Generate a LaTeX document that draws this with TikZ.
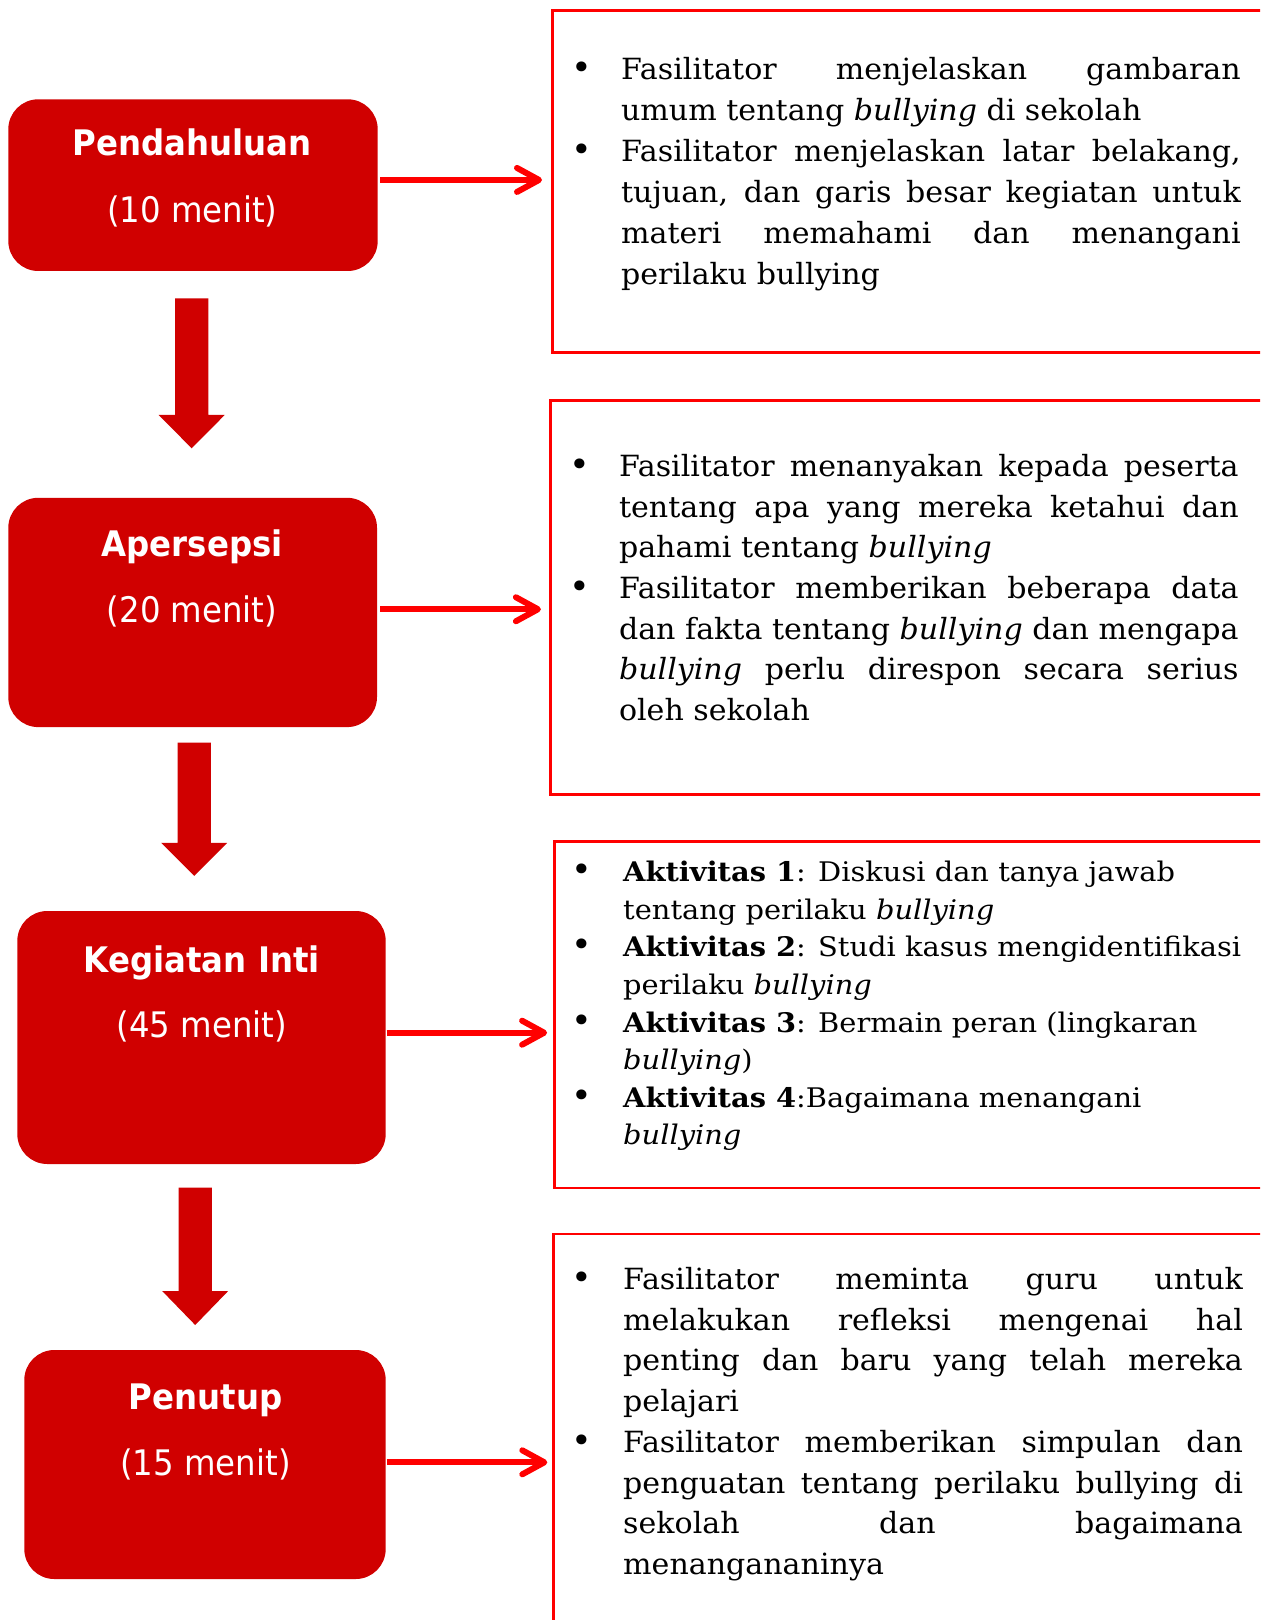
\documentclass[tikz,border=0pt]{standalone}
\usepackage{fontspec}
\setmainfont[FakeStretch=1.03]{DejaVu Serif}
\newfontfamily\widefont[FakeStretch=1.07]{DejaVu Serif}
\newfontfamily\labelfont[FakeStretch=0.92]{DejaVu Sans}
\usetikzlibrary{arrows.meta,calc,fit}
\definecolor{boxred}{RGB}{208,0,0}
\definecolor{linered}{RGB}{255,0,0}
\newcommand\jline[1]{\makebox[\linewidth][s]{#1}}
\newcommand\blockarr[4]{% cx, top, base, tip
  \fill[boxred] (#1-16.6,#2) -- (#1+16.6,#2) -- (#1+16.6,#3) -- (#1+33,#3) -- (#1,#4) -- (#1-33,#3) -- (#1-16.6,#3) -- cycle;}
\begin{document}
\begin{tikzpicture}[x=0.5pt,y=-0.5pt,
  lbox/.style={fill=boxred, draw=none, rounded corners=15pt, inner sep=0pt},
  rbox/.style={draw=linered, line width=1.3pt, inner sep=0pt},
  ltitle/.style={text=white, font=\labelfont\bfseries\fontsize{17.6}{20}\selectfont, anchor=base, inner sep=0pt},
  ltime/.style={text=white, font=\labelfont\fontsize{17.6}{20}\selectfont, anchor=base, inner sep=0pt},
  harrow/.style={draw=linered, line width=3pt, -{Straight Barb[length=11pt,width=12pt,round]}},
  bul/.style={anchor=base, inner sep=0pt, font=\fontsize{17}{18}\selectfont},
  body/.style={anchor=base west, inner sep=0pt}
]
\useasboundingbox (0,0) rectangle (1260,1620);
\clip (0,0) rectangle (1260,1620);

% left boxes
\node[lbox, fit={(8.3,99.3) (377.7,271)}] (p1) {};
\node[lbox, fit={(8.3,497.8) (377,727.1)}] (p2) {};
\node[lbox, fit={(17.3,911) (385.7,1164)}] (p3) {};
\node[lbox, fit={(24.3,1350) (385.7,1579)}] (p4) {};

\node[ltitle] (l1a) at (192.3,155.7) {Pendahuluan};
\node[ltime]  (l1b) at (192.3,222.7) {(10 menit)};
\node[ltitle] (l2a) at (192.1,556.2) {Apersepsi};
\node[ltime]  (l2b) at (192.1,622.3) {(20 menit)};
\node[ltitle] (l3a) at (201.7,972.7) {Kegiatan Inti};
\node[ltime]  (l3b) at (201.7,1037.7) {(45 menit)};
\node[ltitle] (l4a) at (205.5,1409) {Penutup};
\node[ltime]  (l4b) at (205.5,1475.7) {(15 menit)};

% down block arrows
\blockarr{191.7}{298.3}{415}{448.3}
\blockarr{194.2}{742.6}{842.8}{875.8}
\blockarr{195.2}{1187.7}{1291}{1325}

% right boxes
\node[rbox, fit={(552.3,10.3) (1300,352.5)}] (r1) {};
\node[rbox, fit={(550.5,400.7) (1300,794.2)}] (r2) {};
\node[rbox, fit={(554.6,841.7) (1300,1188)}] (r3) {};
\node[rbox, fit={(553.6,1234) (1300,1700)}] (r4) {};

% connectors
\coordinate (s1) at ($(p1.east)+(2.3,-5.2)$);
\coordinate (s2) at ($(p2.east)+(3,-3.2)$);
\coordinate (s3) at ($(p3.east)+(0.6,-4.8)$);
\coordinate (s4) at ($(p4.east)+(0.6,-2.2)$);
\draw[harrow] (s1) -- ($(s1 -| r1.west)+(-9,0)$);
\draw[harrow] (s2) -- ($(s2 -| r2.west)+(-8.3,0)$);
\draw[harrow] (s3) -- ($(s3 -| r3.west)+(-6.2,0)$);
\draw[harrow] (s4) -- ($(s4 -| r4.west)+(-5,0)$);

% box 1 text
\node[bul] (b11) at (582,80) {\textbullet};
\node[bul] (b12) at (582,161.7) {\textbullet};
\node[body] (t1) at (620.7,80) {\parbox[t]{309.85pt}{\fontsize{14.6}{20.43}\selectfont
\jline{Fasilitator menjelaskan gambaran}\\
umum tentang \textit{bullying} di sekolah\\
\jline{Fasilitator menjelaskan latar belakang,}\\
\jline{tujuan, dan garis besar kegiatan untuk}\\
\jline{materi memahami dan menangani}\\
perilaku bullying}};

% box 2 text
\node[bul] (b21) at (580,476.6) {\textbullet};
\node[bul] (b22) at (580,598.4) {\textbullet};
\node[body] (t2) at (618.6,476.6) {\parbox[t]{309.85pt}{\fontsize{14.6}{20.3}\selectfont
\jline{Fasilitator menanyakan kepada peserta}\\
\jline{tentang apa yang mereka ketahui dan}\\
pahami tentang \textit{bullying}\\
\jline{Fasilitator memberikan beberapa data}\\
\jline{dan fakta tentang \textit{bullying} dan mengapa}\\
\jline{\textit{bullying} perlu direspon secara serius}\\
oleh sekolah}};

% box 3 text
\node[bul] (b31) at (582,881.7) {\textbullet};
\node[bul] (b32) at (582,956.9) {\textbullet};
\node[bul] (b33) at (582,1032.1) {\textbullet};
\node[bul] (b34) at (582,1107.3) {\textbullet};
\node[body] (t3) at (622.8,881.7) {\parbox[t]{330pt}{\widefont\fontsize{13.5}{18.8}\selectfont
\textbf{Aktivitas 1}: Diskusi dan tanya jawab\\
tentang perilaku \textit{bullying}\\
\textbf{Aktivitas 2}: Studi kasus mengidentifikasi\\
perilaku \textit{bullying}\\
\textbf{Aktivitas 3}: Bermain peran (lingkaran\\
\textit{bullying})\\
\textbf{Aktivitas 4}:Bagaimana menangani\\
\textit{bullying}}};

% box 4 text
\node[bul] (b41) at (582,1289.4) {\textbullet};
\node[bul] (b42) at (582,1452.2) {\textbullet};
\node[body] (t4) at (622.8,1289.4) {\parbox[t]{309.85pt}{\fontsize{14.6}{20.36}\selectfont
\jline{Fasilitator meminta guru untuk}\\
\jline{melakukan refleksi mengenai hal}\\
\jline{penting dan baru yang telah mereka}\\
pelajari\\
\jline{Fasilitator memberikan simpulan dan}\\
\jline{penguatan tentang perilaku bullying di}\\
\jline{sekolah dan bagaimana}\\
menangananinya}};
\end{tikzpicture}
\end{document}
